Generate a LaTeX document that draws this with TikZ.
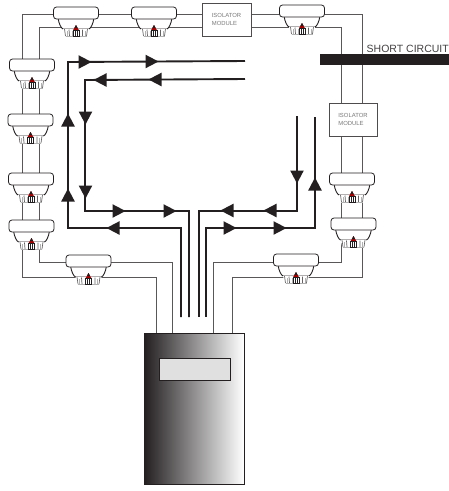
\documentclass[tikz,border=0pt]{standalone}
\usepackage{fontspec}
\setmainfont{Liberation Sans}
\definecolor{ink}{HTML}{231F20}
\tikzset{
  wire/.style={draw=ink!75,line width=1pt},
  loopline/.style={draw=ink,line width=1.9pt,line join=miter},
  isolator/.style={draw=ink!80,fill=white,line width=.9pt,minimum width=#1,inner sep=0pt,align=left,text=ink!60,font=\fontsize{5.9}{8}\selectfont},
  head/.pic={\fill[ink] (6.5,0) -- (-6.5,6.8) -- (-6.5,-6.8) -- cycle;},
  detector/.pic={
    \draw[ink,line width=.9pt,fill=white] (-18,11) .. controls (-17,17) and (-15,21) .. (-13,22)
      -- (13,22) .. controls (15,21) and (17,17) .. (18,11) -- cycle;
    \fill[white] (-13,22) -- (-11,29.5) -- (11,29.5) -- (13,22) -- cycle;
    \draw[ink!70,line width=.7pt] (-11.5,22) -- (-10.5,29) (-7,22.5) -- (-6.5,29) (6.5,22.5) -- (6.5,29) (11.5,22) -- (10.5,29);
    \draw[ink!35,line width=.5pt] (-10.5,29.2) -- (10.5,29.2) (-3.5,24) -- (-3.5,29) (9,24) -- (9,29) (-9,24) -- (-9,29);
    \draw[ink,line width=.8pt,fill=white,rounded corners=3pt] (-22.5,0) rectangle (22.5,12);
    \fill[red!65!black] (0,18) -- (2.8,23) -- (-2.8,23) -- cycle;
    \draw[ink,line width=.7pt] (-3,23) rectangle (3,29);
    \draw[ink,line width=.5pt] (-1,23) -- (-1,29) (1,23) -- (1,29);
    \fill[ink] (0,18) -- (1.6,21) -- (-1.6,21) -- cycle;
  }
}
\begin{document}
\begin{tikzpicture}[x=1pt,y=-1pt]
\useasboundingbox (0,0) rectangle (449,491);
% panel
\shade[left color=ink,right color=white,middle color=ink!50] (144,333) rectangle (244,484);
\node[draw=ink,line width=.9pt,minimum width=100pt,minimum height=151pt,inner sep=0pt] (panel) at (194,408.5) {};
\node[draw=ink,line width=.9pt,fill=black!12,minimum width=71pt,minimum height=22pt,inner sep=0pt] (display) at (194.5,369) {};
% wire corners
\coordinate (oTL) at (22,14); \coordinate (iTL) at (39,27);
\coordinate (oTR) at (362,14); \coordinate (iTR) at (341,27);
\coordinate (oBL) at (22,277); \coordinate (iBL) at (39,262);
\coordinate (oBR) at (362,277); \coordinate (iBR) at (341,262);
\coordinate (pA) at (156,333); \coordinate (pB) at (172,333);
\coordinate (pC) at (213,333); \coordinate (pD) at (232,333);
% wires
\draw[wire] (pA) |- (oBL) -- (oTL) -- (oTR) -- (oBR) -| (pD);
\draw[wire] (pB) |- (iBL) -- (iTL) -- (iTR) -- (iBR) -| (pC);
% isolators
\node[isolator=49pt,minimum height=33pt] (iso1) at (226.5,19.5) {ISOLATOR\\MODULE};
\node[isolator=48pt,minimum height=33pt] (iso2) at (353,119.5) {ISOLATOR\\MODULE};
% detectors
\foreach \cx/\ty in {76/7,154/7,302/5,32/59,30.5/114,31/173,31.5/220,88.5/255,296/254,352/173,353.5/218}
  \pic at (\cx,\ty) {detector};
% short circuit
\fill[ink] (320,54) rectangle (449,65);
\node[anchor=base east,inner sep=0pt,text=ink!85,font=\fontsize{10.5}{12}\selectfont] (sc) at (449,52) {SHORT CIRCUIT};
% loops
\coordinate (a1) at (245,61); \coordinate (a2) at (68,62); \coordinate (a3) at (68,228); \coordinate (a4) at (181,228); \coordinate (a5) at (181,317);
\coordinate (b1) at (245,79); \coordinate (b2) at (85,80); \coordinate (b3) at (85,211); \coordinate (b4) at (189,211); \coordinate (b5) at (189,317);
\coordinate (c1) at (297,116); \coordinate (c2) at (297,211); \coordinate (c3) at (199,211); \coordinate (c4) at (199,317);
\coordinate (d1) at (315,117); \coordinate (d2) at (315,228); \coordinate (d3) at (206,228); \coordinate (d4) at (206,317);
\draw[loopline] (a1) -- (a2) -- (a3) -- (a4) -- (a5);
\draw[loopline] (b1) -- (b2) -- (b3) -- (b4) -- (b5);
\draw[loopline] (c1) -- (c2) -- (c3) -- (c4);
\draw[loopline] (d1) -- (d2) -- (d3) -- (d4);
% arrowheads (the y axis is flipped, so 90 points up on the page)
\foreach \x/\y/\r in {85/62/0,152/61.5/0,68/120/90,68/195/90,
  100/80/180,155/79.5/180,113/228/180,
  85.5/118/-90,85.5/192/-90,119/211/0,170/211/0,
  227/210.5/180,270/210.5/180,297/177/-90,
  230/228/0,280/228/0,315/184/90}
  \pic[rotate=\r] at (\x,\y) {head};
\end{tikzpicture}
\end{document}
